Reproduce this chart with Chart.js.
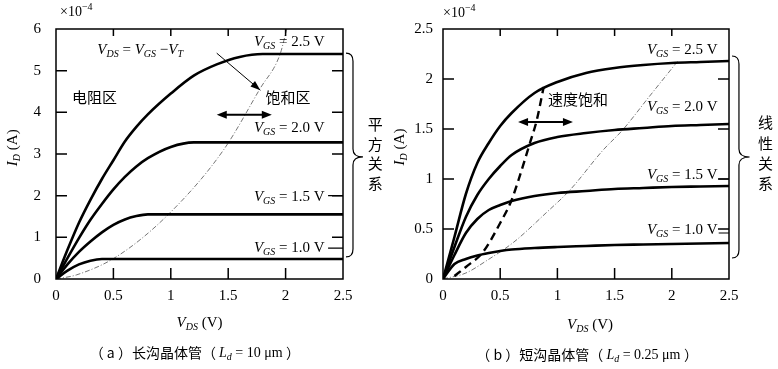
<!DOCTYPE html>
<html>
<head>
<meta charset="utf-8">
<script src="https://cdn.jsdelivr.net/npm/chart.js@4.4.0/dist/chart.umd.min.js"></script>
<style>
  html, body { margin: 0; padding: 0; background: #fff; }
  #wrap { position: relative; width: 778px; height: 369px; }
  canvas { position: absolute; top: 0; }
  #longChart { left: 0; }
  #shortChart { left: 389px; }
</style>
</head>
<body>
<div id="wrap">
  <canvas id="longChart" width="389" height="369"></canvas>
  <canvas id="shortChart" width="389" height="369"></canvas>
</div>
<script>
// (a) long channel, I_D in units of 1e-4 A
const vdsLong = [0, 0.1, 0.2, 0.3, 0.4, 0.5, 0.6, 0.7, 0.8, 1.0, 1.2, 1.4, 1.6, 1.8, 2.0, 2.5];
const idLong25 = [0, 0.7, 1.35, 1.9, 2.4, 2.85, 3.3, 3.65, 3.95, 4.45, 4.88, 5.15, 5.33, 5.4, 5.4, 5.4];
const idLong20 = [0, 0.5, 0.98, 1.42, 1.8, 2.15, 2.45, 2.7, 2.9, 3.17, 3.28, 3.28, 3.28, 3.28, 3.28, 3.28];
const idLong15 = [0, 0.35, 0.65, 0.9, 1.12, 1.3, 1.43, 1.51, 1.55, 1.55, 1.55, 1.55, 1.55, 1.55, 1.55, 1.55];
const idLong10 = [0, 0.2, 0.35, 0.44, 0.48, 0.48, 0.48, 0.48, 0.48, 0.48, 0.48, 0.48, 0.48, 0.48, 0.48, 0.48];
// V_DS = V_GS - V_T locus
const edgeLongX = [0, 0.18, 0.53, 0.99, 1.46, 1.78, 1.95, 2.01];
const edgeLongY = [0, 0.1, 0.54, 1.58, 3.1, 4.58, 5.38, 6.0];

// (b) short channel
const vdsShort = [0, 0.1, 0.2, 0.3, 0.4, 0.5, 0.6, 0.8, 1.0, 1.25, 1.5, 1.75, 2.0, 2.25, 2.5];
const idShort25 = [0, 0.42, 0.85, 1.16, 1.36, 1.53, 1.66, 1.86, 1.97, 2.06, 2.11, 2.14, 2.16, 2.17, 2.18];
const idShort20 = [0, 0.32, 0.62, 0.84, 1.0, 1.13, 1.24, 1.36, 1.42, 1.46, 1.49, 1.51, 1.53, 1.54, 1.55];
const idShort15 = [0, 0.24, 0.46, 0.6, 0.69, 0.74, 0.78, 0.83, 0.86, 0.88, 0.9, 0.91, 0.92, 0.925, 0.93];
const idShort10 = [0, 0.15, 0.2, 0.235, 0.26, 0.28, 0.295, 0.31, 0.32, 0.33, 0.34, 0.345, 0.35, 0.355, 0.36];
const velSatX = [0.1, 0.2, 0.35, 0.5, 0.6, 0.66, 0.76, 0.82, 0.88];
const velSatY = [0.03, 0.12, 0.27, 0.56, 0.79, 0.99, 1.36, 1.59, 1.92];
const edgeShortX = [0, 0.2, 0.39, 0.62, 0.9, 1.11, 1.4, 1.57, 1.8, 2.06];
const edgeShortY = [0, 0.06, 0.19, 0.37, 0.66, 0.89, 1.29, 1.49, 1.82, 2.19];

const xTicks = [0, 0.5, 1, 1.5, 2, 2.5];
const yTicksLong = [0, 1, 2, 3, 4, 5, 6];
const yTicksShort = [0, 0.5, 1, 1.5, 2, 2.5];

const SERIF = '"Liberation Serif", "DejaVu Serif", serif';
const CJK = '"Noto Sans CJK SC", sans-serif';

const pts = (xs, ys) => xs.map((x, i) => ({ x: x, y: ys[i] }));

const curve = (data) => ({
  data: data, borderColor: "#000", borderWidth: 2.6, pointRadius: 0,
  cubicInterpolationMode: "monotone", fill: false
});
const edge = (data) => ({
  data: data, borderColor: "#666", borderWidth: 0.9, borderDash: [5, 2, 1, 2],
  pointRadius: 0, cubicInterpolationMode: "monotone", fill: false
});

// text with subscripts: kinds i = italic, s = italic subscript, n = normal, p = superscript, c = chinese
function fontFor(kind, size) {
  if (kind === "i") return "italic " + size + "px " + SERIF;
  if (kind === "s") return "italic " + Math.round(size * 0.68) + "px " + SERIF;
  if (kind === "p") return Math.round(size * 0.68) + "px " + SERIF;
  if (kind === "c") return size + "px " + CJK;
  return size + "px " + SERIF;
}
function rich(ctx, segs, x, y, align, size) {
  let w = 0;
  segs.forEach(s => { ctx.font = fontFor(s[1], size); w += ctx.measureText(s[0]).width; });
  let cx = align === "right" ? x - w : align === "center" ? x - w / 2 : x;
  ctx.textBaseline = "middle";
  ctx.textAlign = "left";
  segs.forEach(s => {
    ctx.font = fontFor(s[1], size);
    let dy = s[1] === "s" ? size * 0.3 : s[1] === "p" ? -size * 0.35 : 0;
    ctx.fillText(s[0], cx, y + dy);
    cx += ctx.measureText(s[0]).width;
  });
}
function head(ctx, x1, y1, x2, y2, len, wid) {
  const a = Math.atan2(y2 - y1, x2 - x1);
  ctx.beginPath();
  ctx.moveTo(x2, y2);
  ctx.lineTo(x2 - len * Math.cos(a) + wid * Math.sin(a), y2 - len * Math.sin(a) - wid * Math.cos(a));
  ctx.lineTo(x2 - len * Math.cos(a) - wid * Math.sin(a), y2 - len * Math.sin(a) + wid * Math.cos(a));
  ctx.closePath();
  ctx.fill();
}
function brace(ctx, xa, xv, xc, yt, ym, yb) {
  const r = 8;
  ctx.beginPath();
  ctx.moveTo(xa, yt);
  ctx.quadraticCurveTo(xv, yt, xv, yt + r);
  ctx.lineTo(xv, ym - r);
  ctx.quadraticCurveTo(xv, ym, xc, ym);
  ctx.quadraticCurveTo(xv, ym, xv, ym + r);
  ctx.lineTo(xv, yb - r);
  ctx.quadraticCurveTo(xv, yb, xa, yb);
  ctx.stroke();
}
function vtext(ctx, text, x, ys, size) {
  ctx.font = size + "px " + CJK;
  ctx.textAlign = "center";
  ctx.textBaseline = "middle";
  text.split("").forEach((ch, i) => ctx.fillText(ch, x, ys[i]));
}
const vgs = (v) => [["V", "i"], ["GS", "s"], [" = " + v + " V", "n"]];

// frame, inward ticks and all labels
function figurePlugin(drawNotes, yTicks) {
  return {
    id: "figure",
    afterDraw(chart) {
      const ctx = chart.ctx, a = chart.chartArea;
      const sx = v => chart.scales.x.getPixelForValue(v);
      const sy = v => chart.scales.y.getPixelForValue(v);
      ctx.save();
      ctx.strokeStyle = "#000";
      ctx.fillStyle = "#000";
      ctx.lineWidth = 1.5;
      ctx.strokeRect(a.left, a.top, a.right - a.left, a.bottom - a.top);
      ctx.lineWidth = 1.5;
      ctx.beginPath();
      xTicks.slice(1, -1).forEach(t => {
        ctx.moveTo(sx(t), a.bottom); ctx.lineTo(sx(t), a.bottom - 11);
        ctx.moveTo(sx(t), a.top); ctx.lineTo(sx(t), a.top + 7);
      });
      yTicks.slice(1, -1).forEach(t => {
        ctx.moveTo(a.left, sy(t)); ctx.lineTo(a.left + 11, sy(t));
        ctx.moveTo(a.right, sy(t)); ctx.lineTo(a.right - 11, sy(t));
      });
      ctx.stroke();
      drawNotes(ctx, sx, sy, a);
      ctx.restore();
    }
  };
}

const tickText = (v) => String(Math.round(v * 10) / 10);

function baseOptions(yMax, yStep, padRight, yWidth, yPad) {
  return {
    responsive: false,
    animation: false,
    devicePixelRatio: 1,
    layout: { padding: { left: 0, top: 29, right: padRight, bottom: 0 } },
    plugins: { legend: { display: false }, tooltip: { enabled: false } },
    scales: {
      x: {
        type: "linear", min: 0, max: 2.5,
        afterFit: (s) => { s.height = 90; },
        grid: { display: false, drawTicks: false },
        border: { display: false },
        ticks: { stepSize: 0.5, padding: 8, color: "#000", callback: tickText,
                 font: { family: SERIF, size: 15 } }
      },
      y: {
        type: "linear", min: 0, max: yMax,
        afterFit: (s) => { s.width = yWidth; },
        grid: { display: false, drawTicks: false },
        border: { display: false },
        ticks: { stepSize: yStep, padding: yPad, color: "#000", callback: tickText,
                 font: { family: SERIF, size: 15 } }
      }
    }
  };
}

const notesLong = (ctx, sx, sy, a) => {
  rich(ctx, [["×10", "n"], ["−4", "p"]], sx(0.035), sy(6.41), "left", 14);
  ctx.save();
  ctx.translate(sx(-0.375), sy(3.15));
  ctx.rotate(-Math.PI / 2);
  rich(ctx, [["I", "i"], ["D", "s"], [" (A)", "n"]], 0, 0, "center", 15);
  ctx.restore();
  rich(ctx, [["V", "i"], ["DS", "s"], [" (V)", "n"]], sx(1.25), sy(-1.06), "center", 15);
  rich(ctx, [["（ a ）长沟晶体管（ ", "c"], ["L", "i"], ["d", "s"], [" = 10 μm ", "n"], ["）", "c"]],
    sx(1.21), sy(-1.78), "center", 14);

  rich(ctx, [["V", "i"], ["DS", "s"], [" = ", "n"], ["V", "i"], ["GS", "s"], [" −", "n"], ["V", "i"], ["T", "s"]],
    sx(0.36), sy(5.5), "left", 15);
  ctx.lineWidth = 1;
  ctx.beginPath(); ctx.moveTo(sx(1.40), sy(5.42)); ctx.lineTo(sx(1.78), sy(4.53)); ctx.stroke();
  head(ctx, sx(1.40), sy(5.42), sx(1.78), sy(4.53), 10, 3.5);

  ctx.font = "15px " + CJK; ctx.textAlign = "center"; ctx.textBaseline = "middle";
  ctx.fillText("电阻区", sx(0.335), sy(4.35));
  ctx.fillText("饱和区", sx(2.02), sy(4.35));

  ctx.lineWidth = 2;
  ctx.beginPath(); ctx.moveTo(sx(1.46), sy(3.94)); ctx.lineTo(sx(1.82), sy(3.94)); ctx.stroke();
  head(ctx, sx(1.82), sy(3.94), sx(1.40), sy(3.94), 10, 4);
  head(ctx, sx(1.46), sy(3.94), sx(1.88), sy(3.94), 10, 4);

  rich(ctx, vgs("2.5"), sx(2.34), sy(5.69), "right", 15);
  rich(ctx, vgs("2.0"), sx(2.34), sy(3.62), "right", 15);
  rich(ctx, vgs("1.5"), sx(2.34), sy(1.97), "right", 15);
  rich(ctx, vgs("1.0"), sx(2.34), sy(0.74), "right", 15);
  ctx.lineWidth = 1.2;
  ctx.beginPath();
  ctx.moveTo(sx(2.37), sy(2.0)); ctx.lineTo(sx(2.5), sy(2.0));
  ctx.moveTo(sx(2.37), sy(0.74)); ctx.lineTo(sx(2.5), sy(0.74));
  ctx.stroke();

  brace(ctx, sx(2.526), sx(2.587), sx(2.674), sy(5.42), sy(2.93), sy(0.53));
  vtext(ctx, "平方关系", sx(2.78), [sy(3.72), sy(3.24), sy(2.78), sy(2.30)], 15);
};

const notesShort = (ctx, sx, sy, a) => {
  rich(ctx, [["×10", "n"], ["−4", "p"]], sx(0.0), sy(2.66), "left", 14);
  ctx.save();
  ctx.translate(sx(-0.376), sy(1.32));
  ctx.rotate(-Math.PI / 2);
  rich(ctx, [["I", "i"], ["D", "s"], [" (A)", "n"]], 0, 0, "center", 15);
  ctx.restore();
  rich(ctx, [["V", "i"], ["DS", "s"], [" (V)", "n"]], sx(1.285), sy(-0.46), "center", 15);
  rich(ctx, [["（ b ）短沟晶体管（ ", "c"], ["L", "i"], ["d", "s"], [" = 0.25 μm ", "n"], ["）", "c"]],
    sx(1.26), sy(-0.76), "center", 14);

  ctx.font = "15px " + CJK; ctx.textAlign = "center"; ctx.textBaseline = "middle";
  ctx.fillText("速度饱和", sx(1.18), sy(1.80));

  ctx.lineWidth = 2;
  ctx.beginPath(); ctx.moveTo(sx(0.71), sy(1.57)); ctx.lineTo(sx(1.08), sy(1.57)); ctx.stroke();
  head(ctx, sx(1.08), sy(1.57), sx(0.656), sy(1.57), 10, 4);
  head(ctx, sx(0.71), sy(1.57), sx(1.136), sy(1.57), 10, 4);

  rich(ctx, vgs("2.5"), sx(2.40), sy(2.29), "right", 15);
  rich(ctx, vgs("2.0"), sx(2.40), sy(1.72), "right", 15);
  rich(ctx, vgs("1.5"), sx(2.40), sy(1.04), "right", 15);
  rich(ctx, vgs("1.0"), sx(2.40), sy(0.49), "right", 15);
  ctx.lineWidth = 1.2;
  ctx.beginPath();
  ctx.moveTo(sx(2.41), sy(1.0)); ctx.lineTo(sx(2.5), sy(1.0));
  ctx.moveTo(sx(2.41), sy(0.46)); ctx.lineTo(sx(2.5), sy(0.46));
  ctx.stroke();

  brace(ctx, sx(2.526), sx(2.587), sx(2.68), sy(2.23), sy(1.22), sy(0.21));
  vtext(ctx, "线性关系", sx(2.82), [sy(1.57), sy(1.36), sy(1.16), sy(0.96)], 15);
};

new Chart(document.getElementById("longChart"), {
  type: "line",
  data: {
    datasets: [
      curve(pts(vdsLong, idLong25)),
      curve(pts(vdsLong, idLong20)),
      curve(pts(vdsLong, idLong15)),
      curve(pts(vdsLong, idLong10)),
      edge(pts(edgeLongX, edgeLongY))
    ]
  },
  options: baseOptions(6, 1, 46, 56, 15),
  plugins: [figurePlugin(notesLong, yTicksLong)]
});

const velSat = curve(pts(velSatX, velSatY));
velSat.borderDash = [8, 5];
velSat.borderWidth = 2.4;

new Chart(document.getElementById("shortChart"), {
  type: "line",
  data: {
    datasets: [
      curve(pts(vdsShort, idShort25)),
      curve(pts(vdsShort, idShort20)),
      curve(pts(vdsShort, idShort15)),
      curve(pts(vdsShort, idShort10)),
      velSat,
      edge(pts(edgeShortX, edgeShortY))
    ]
  },
  options: baseOptions(2.5, 0.5, 49, 54, 10),
  plugins: [figurePlugin(notesShort, yTicksShort)]
});
</script>
</body>
</html>
